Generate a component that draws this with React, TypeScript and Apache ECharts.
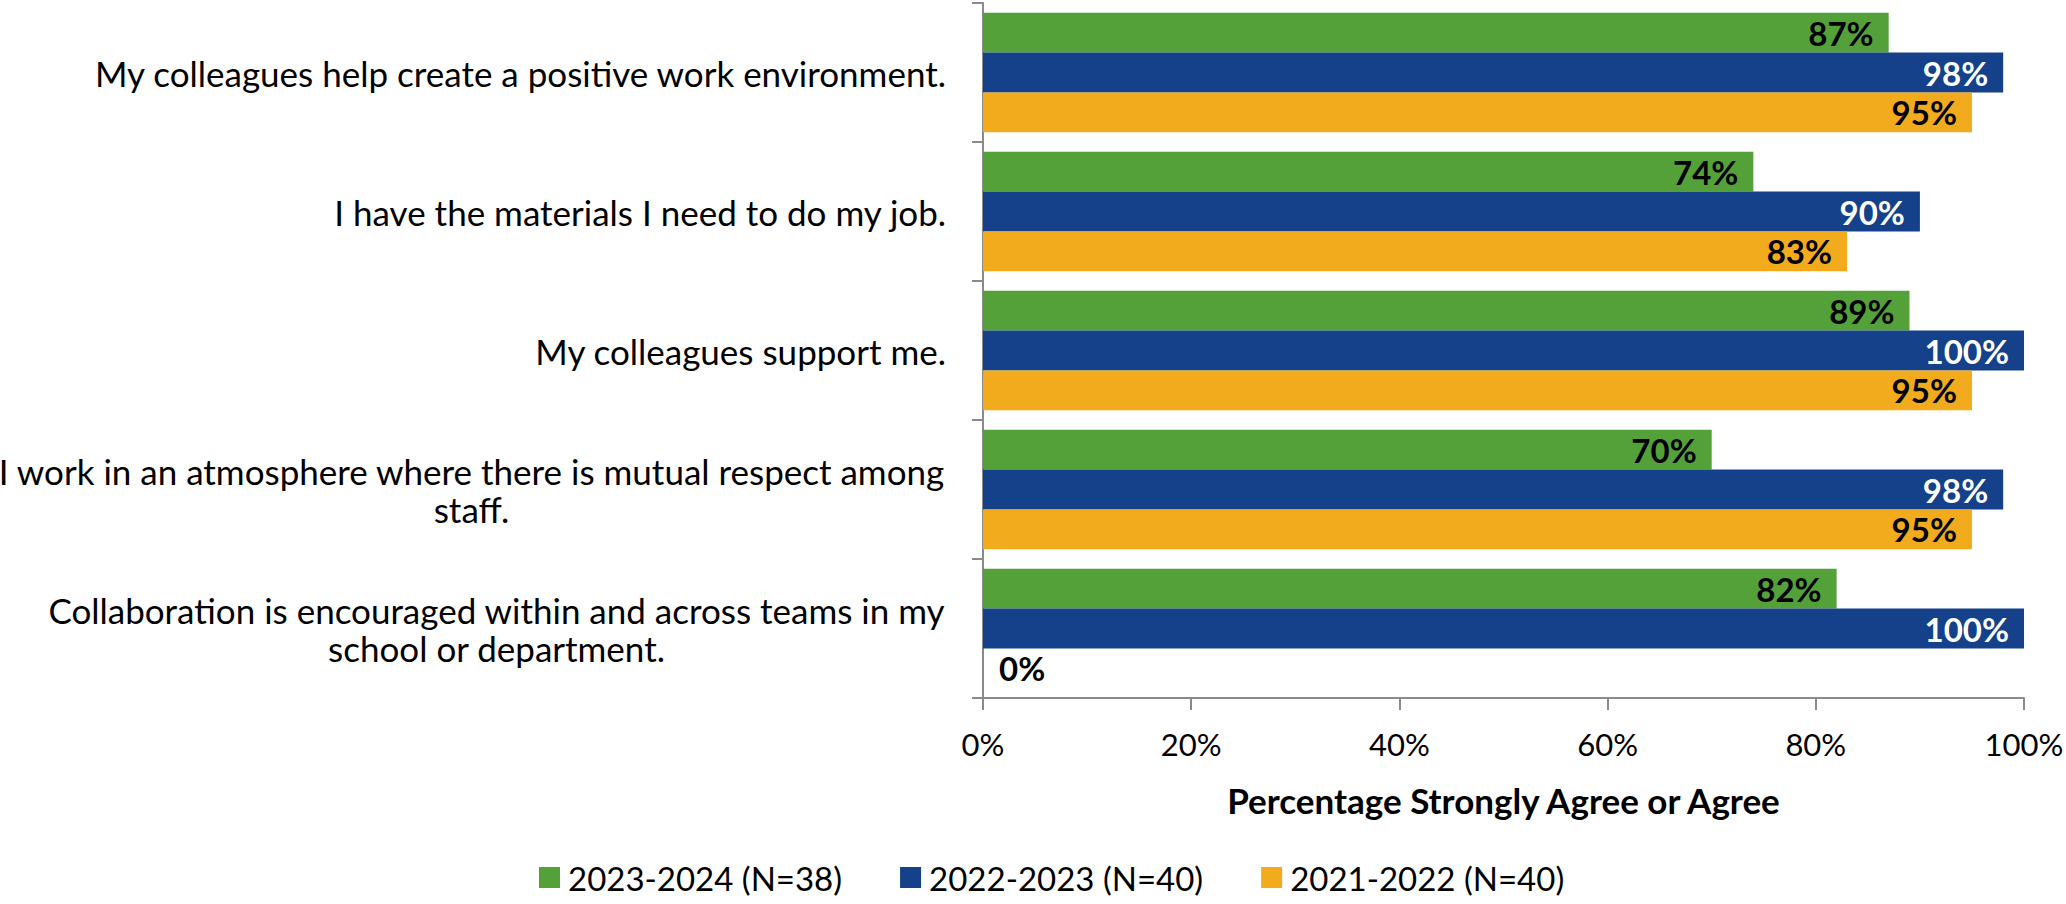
import React, { useEffect, useRef } from "react";
import * as echarts from "echarts";

const categories: string[] = [
  "My colleagues help create a positive work environment.",
  "I have the materials I need to do my job.",
  "My colleagues support me.",
  "I work in an atmosphere where there is mutual respect among\nstaff.",
  "Collaboration is encouraged within and across teams in my\nschool or department.",
];

const seriesNames: string[] = ["2023-2024 (N=38)", "2022-2023 (N=40)", "2021-2022 (N=40)"];
const values2023: number[] = [87, 74, 89, 70, 82];
const values2022: number[] = [98, 90, 100, 98, 100];
const values2021: number[] = [95, 83, 95, 95, 0];

const xTicks = { min: 0, max: 100, interval: 20 };

const FONT = "Lato";
const CAT_SIZE = 35;
const TICK_SIZE = 31;
const DL_SIZE = 33;
const TITLE_SIZE = 35;
const LEGEND_SIZE = 33;

const colors = ["#55A139", "#14418A", "#F1AB1D"];
const labelColors = ["#000000", "#FFFFFF", "#000000"];

function measure(text: string, size: number): number {
  const c = document.createElement("canvas").getContext("2d");
  if (!c) return text.length * size * 0.5;
  c.font = `normal ${size}px ${FONT}`;
  return c.measureText(text).width;
}

export default function App() {
  const ref = useRef<HTMLDivElement>(null);
  useEffect(() => {
    if (!ref.current) return;
    const chart = echarts.init(ref.current, undefined, { renderer: "svg" });

    const rich: Record<string, any> = {};
    categories.forEach((cat, i) => {
      const lines = cat.split("\n");
      const w = Math.max(...lines.map((l) => measure(l, CAT_SIZE)));
      rich["c" + i] = {
        width: Math.ceil(w) + 2,
        align: "center",
        fontSize: CAT_SIZE,
        fontFamily: FONT,
        color: "#000",
        lineHeight: 38,
      };
    });

    const allValues = [values2023, values2022, values2021];
    const series = allValues.map((vals, si) => ({
      name: seriesNames[si],
      type: "bar",
      barGap: "0%",
      barCategoryGap: "14%",
      itemStyle: { color: colors[si] },
      label: {
        show: true,
        position: "insideRight",
        distance: 15,
        formatter: "{c}%",
        color: labelColors[si],
        fontFamily: FONT,
        fontWeight: "bold",
        fontSize: DL_SIZE,
      },
      data: vals.map((v) =>
        v === 0
          ? { value: v, label: { position: "insideLeft", distance: 16, color: "#000" } }
          : v
      ),
    }));

    chart.setOption({
      animation: false,
      textStyle: { fontFamily: FONT },
      grid: {
        left: 983,
        right: 42,
        top: 3,
        bottom: 206,
        containLabel: false,
        outerBoundsMode: "none",
      },
      legend: {
        data: seriesNames,
        left: 534,
        top: 856,
        icon: "rect",
        itemWidth: 21,
        itemHeight: 21,
        itemGap: 58,
        textStyle: { fontSize: LEGEND_SIZE, fontFamily: FONT, color: "#000", padding: [0, 0, 0, 3] },
      },
      xAxis: {
        type: "value",
        min: xTicks.min,
        max: xTicks.max,
        interval: xTicks.interval,
        name: "Percentage Strongly Agree or Agree",
        nameLocation: "middle",
        nameGap: 84,
        nameTextStyle: { fontSize: TITLE_SIZE, fontWeight: "bold", fontFamily: FONT, color: "#000" },
        axisLine: { show: true, lineStyle: { color: "#8A8A8A", width: 2 } },
        axisTick: { show: true, length: 12, lineStyle: { color: "#8A8A8A", width: 2 } },
        axisLabel: { formatter: "{value}%", margin: 30, fontSize: TICK_SIZE, fontFamily: FONT, color: "#000" },
        splitLine: { show: false },
      },
      yAxis: {
        type: "category",
        data: categories,
        inverse: true,
        axisLine: { show: true, lineStyle: { color: "#8A8A8A", width: 2 } },
        axisTick: { show: true, length: 11, lineStyle: { color: "#8A8A8A", width: 2 } },
        axisLabel: {
          margin: 37,
          fontSize: CAT_SIZE,
          fontFamily: FONT,
          color: "#000",
          lineHeight: 38,
          rich,
          formatter: (value: string, idx: number) => {
            const lines = value.split("\n");
            if (lines.length === 1) return value;
            return lines.map((l) => `{c${idx}|${l}}`).join("\n");
          },
        },
      },
      series,
    });
    return () => chart.dispose();
  }, []);
  return (
    <div
      ref={ref}
      style={{ position: "fixed", left: 0, top: 0, width: 2066, height: 904, background: "#fff" }}
    />
  );
}
